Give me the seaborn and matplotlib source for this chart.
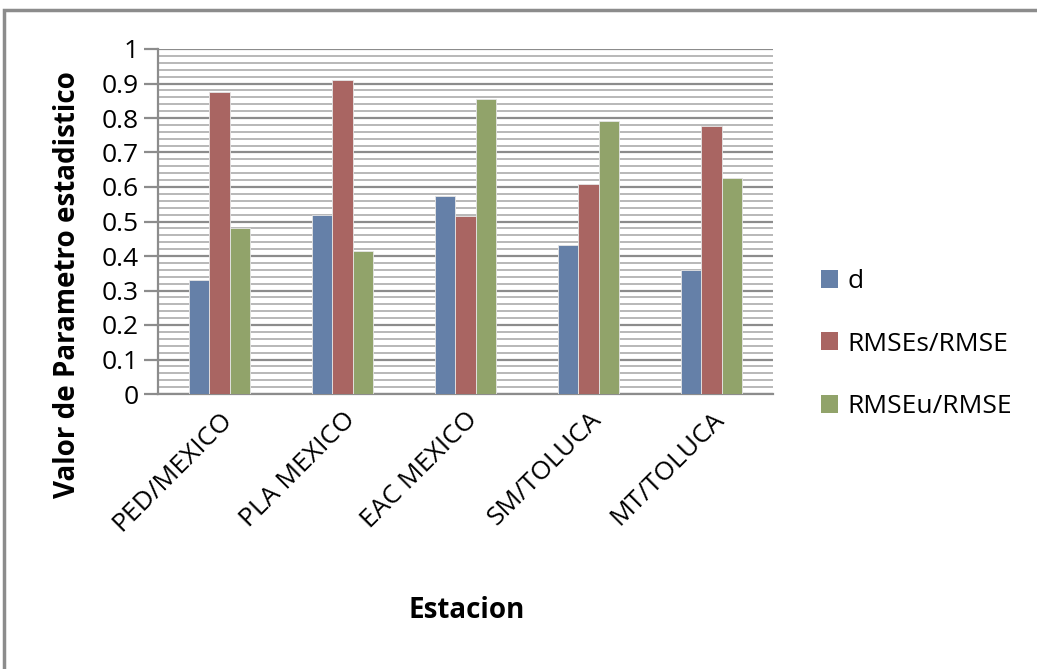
import numpy as np
import pandas as pd
import seaborn as sns
import matplotlib.pyplot as plt
from matplotlib.patches import Rectangle, Patch
from matplotlib.ticker import MultipleLocator

estaciones = ["PED/MEXICO", "PLA MEXICO", "EAC MEXICO", "SM/TOLUCA", "MT/TOLUCA"]
series = ["d", "RMSEs/RMSE", "RMSEu/RMSE"]
d_vals = [0.33, 0.52, 0.575, 0.433, 0.36]
rmses_vals = [0.875, 0.91, 0.516, 0.609, 0.778]
rmseu_vals = [0.481, 0.414, 0.856, 0.792, 0.627]
colores = ["#6580A8", "#A96562", "#91A36A"]

df = pd.DataFrame({
    "Estacion": estaciones * 3,
    "serie": [s for s in series for _ in estaciones],
    "valor": d_vals + rmses_vals + rmseu_vals,
})

sns.set_style("white")
plt.rcParams['font.family'] = ['Open Sans', 'DejaVu Sans']
plt.rcParams['text.color'] = 'black'
plt.rcParams['xtick.color'] = 'black'
plt.rcParams['ytick.color'] = 'black'

fig = plt.figure(figsize=(10.37, 6.69), dpi=100)
ax = fig.add_axes([158/1037, 1-394/669, 615/1037, 345/669])

sns.barplot(data=df, x="Estacion", y="valor", hue="serie", palette=colores,
            width=0.5, gap=0, saturation=1, ax=ax, legend=False,
            edgecolor="#e6e6e6", linewidth=0.6, zorder=3)

ax.set_ylim(0, 1)
ax.set_xlim(-0.5, 4.5)
ax.yaxis.set_minor_locator(MultipleLocator(0.02))
ax.set_yticks(np.arange(0, 1.01, 0.1))
ax.set_yticklabels(["0"] + ["%.1f" % v for v in np.arange(0.1, 0.95, 0.1)] + ["1"])
ax.grid(axis="y", which="major", color="#8c8c8c", linewidth=1.6, zorder=0)
ax.grid(axis="y", which="minor", color="#b8b8b8", linewidth=1.4, zorder=0)
ax.set_axisbelow(True)

for s in ["top", "right"]:
    ax.spines[s].set_visible(False)
for s in ["left", "bottom"]:
    ax.spines[s].set_color("#8c8c8c")
    ax.spines[s].set_linewidth(1.6)

ax.tick_params(axis="y", which="major", left=True, length=10, width=1.6,
               color="#8c8c8c", labelcolor="black", labelsize=19, pad=4)
ax.tick_params(axis="y", which="minor", left=False)
ax.tick_params(axis="x", bottom=False, labelcolor="black", labelsize=19, pad=6)
plt.setp(ax.get_xticklabels(), rotation=45, ha="right", rotation_mode="anchor")

ax.set_xlabel("")
ax.set_ylabel("")
fig.text(68/1037, 1-285/669, "Valor de Parametro estadistico", rotation=90,
         fontsize=20, fontweight="bold", ha="center", va="center")
fig.text(467/1037, 1-611/669, "Estacion", fontsize=20, fontweight="bold",
         ha="center", va="center")

handles = [Patch(facecolor=c, edgecolor="none") for c in colores]
fig.legend(handles, series, loc="center left", bbox_to_anchor=(821/1037, 1-344/669),
           frameon=False, fontsize=19, handlelength=0.65, handleheight=0.65,
           handletextpad=0.35, labelspacing=1.42, borderpad=0, borderaxespad=0)

fig.patches.append(Rectangle((4/1037, -0.1), 1.2, 1-10/669 + 0.1,
                             transform=fig.transFigure, fill=False,
                             edgecolor="#8c8c8c", linewidth=2.5))

fig.savefig("out.png", dpi=100)
